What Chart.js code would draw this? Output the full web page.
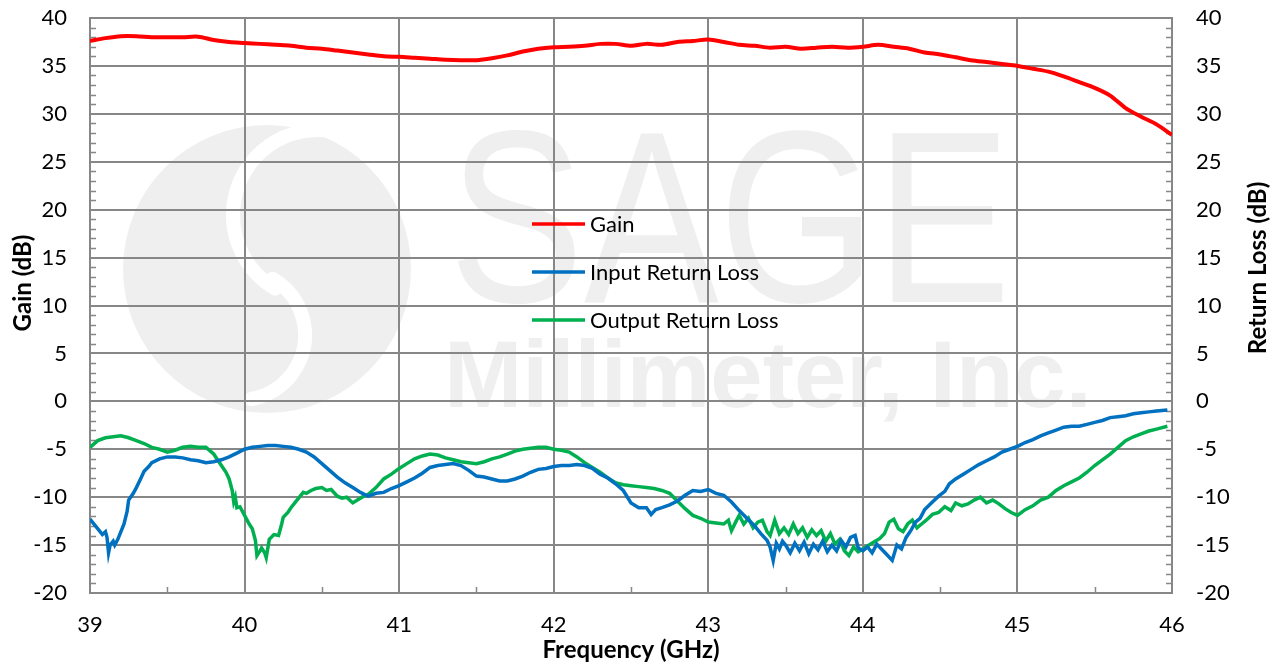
<!DOCTYPE html>
<html>
<head>
<meta charset="utf-8">
<script src="https://cdn.jsdelivr.net/npm/chart.js@4.4.1/dist/chart.umd.min.js"></script>
<style>
  html, body { margin: 0; padding: 0; background: #fff; }
  #wrap { width: 1280px; height: 666px; position: relative; }
</style>
</head>
<body>
<div id="wrap"><canvas id="chartCanvas"></canvas></div>
<script>
// Gain (dB) vs frequency (GHz)
const gainFreq = [39.0,39.1,39.2,39.3,39.4,39.5,39.6,39.7,39.8,39.9,40.0,40.1,40.2,40.3,40.4,40.5,40.6,40.7,40.8,40.9,
  41.0,41.1,41.2,41.3,41.4,41.5,41.6,41.7,41.8,41.9,42.0,42.1,42.2,42.3,42.4,42.5,42.6,42.7,42.8,42.9,
  43.0,43.1,43.2,43.3,43.4,43.5,43.6,43.7,43.8,43.9,44.0,44.1,44.2,44.3,44.4,44.5,44.6,44.7,44.8,44.9,
  45.0,45.1,45.2,45.3,45.4,45.5,45.6,45.7,45.8,45.9,46.0];
const gainDb = [37.6,37.9,38.1,38.1,38.0,38.0,38.0,38.05,37.7,37.5,37.4,37.3,37.2,37.1,36.9,36.8,36.6,36.4,36.2,36.0,
  35.95,35.85,35.75,35.65,35.6,35.6,35.8,36.1,36.5,36.8,36.95,37.0,37.1,37.3,37.3,37.1,37.3,37.2,37.5,37.6,
  37.75,37.5,37.2,37.1,36.9,37.0,36.8,36.9,37.0,36.9,37.0,37.2,37.0,36.8,36.4,36.2,35.9,35.6,35.4,35.2,
  35.0,34.7,34.4,33.9,33.3,32.7,31.9,30.6,29.7,28.9,27.8];

// Input return loss (dB)
const irlFreq = [39.00,39.03,39.06,39.08,39.10,39.11,39.12,39.13,39.15,39.16,39.18,39.20,39.22,39.24,39.25,39.28,39.30,39.33,39.35,39.38,
  39.40,39.45,39.50,39.55,39.60,39.65,39.70,39.75,39.80,39.85,39.90,39.95,40.00,40.05,40.10,40.15,40.20,40.25,40.30,40.35,
  40.40,40.45,40.50,40.55,40.60,40.65,40.70,40.75,40.80,40.85,40.90,40.95,41.00,41.05,41.10,41.15,41.20,41.25,41.30,41.35,
  41.40,41.45,41.50,41.55,41.60,41.65,41.70,41.75,41.80,41.85,41.90,41.95,42.00,42.05,42.10,42.15,42.20,42.25,42.30,42.35,
  42.40,42.45,42.50,42.55,42.60,42.63,42.66,42.70,42.75,42.80,42.85,42.90,42.95,43.00,43.05,43.10,43.15,43.20,43.25,
  43.30,43.34,43.38,43.40,43.42,43.44,43.46,43.48,43.50,43.53,43.56,43.59,43.62,43.65,43.68,43.71,43.74,43.77,43.80,43.83,
  43.86,43.89,43.92,43.95,43.97,44.00,44.03,44.06,44.09,44.12,44.15,44.19,44.22,44.25,44.28,44.31,44.34,44.37,44.40,
  44.45,44.49,44.53,44.56,44.60,44.65,44.70,44.75,44.80,44.85,44.90,44.95,45.00,45.05,45.10,45.15,45.20,45.25,45.30,45.35,
  45.40,45.45,45.50,45.55,45.60,45.65,45.70,45.75,45.80,45.85,45.90,45.97];
const irlDb = [-12.3,-12.9,-13.5,-13.9,-13.6,-14.2,-15.8,-15.0,-14.6,-15.0,-14.4,-13.6,-12.8,-11.5,-10.3,-9.6,-9.0,-8.0,-7.3,-6.8,
  -6.4,-6.0,-5.8,-5.8,-5.9,-6.1,-6.2,-6.4,-6.3,-6.1,-5.8,-5.4,-5.0,-4.8,-4.7,-4.6,-4.6,-4.7,-4.8,-5.0,
  -5.3,-5.8,-6.5,-7.2,-7.9,-8.5,-9.0,-9.5,-9.9,-9.6,-9.5,-9.1,-8.8,-8.4,-8.0,-7.5,-6.9,-6.7,-6.6,-6.5,
  -6.7,-7.2,-7.8,-7.9,-8.1,-8.3,-8.3,-8.1,-7.8,-7.4,-7.1,-7.0,-6.8,-6.7,-6.7,-6.6,-6.7,-7.0,-7.6,-8.0,
  -8.6,-9.3,-10.6,-11.1,-11.1,-11.8,-11.3,-11.1,-10.8,-10.4,-9.8,-9.3,-9.4,-9.2,-9.6,-9.8,-10.5,-11.4,-12.2,
  -13.0,-13.8,-14.5,-15.2,-16.6,-14.8,-15.4,-14.6,-15.0,-15.8,-14.8,-15.6,-14.7,-15.9,-14.9,-15.5,-14.6,-15.7,-15.0,-15.6,
  -14.5,-15.2,-14.2,-14.0,-15.3,-15.6,-15.2,-15.8,-14.9,-15.4,-15.9,-16.6,-15.0,-15.4,-14.2,-13.5,-12.6,-12.2,-11.3,
  -10.5,-9.9,-9.4,-8.6,-8.1,-7.6,-7.1,-6.6,-6.2,-5.8,-5.3,-5.0,-4.7,-4.3,-4.0,-3.6,-3.3,-3.0,-2.7,-2.6,
  -2.6,-2.4,-2.2,-2.0,-1.7,-1.6,-1.5,-1.3,-1.2,-1.1,-1.0,-0.9];

// Output return loss (dB)
const orlFreq = [39.00,39.05,39.10,39.15,39.20,39.25,39.30,39.35,39.40,39.45,39.50,39.55,39.60,39.65,39.70,39.75,39.80,39.85,39.88,39.90,
  39.92,39.93,39.94,39.95,39.97,40.00,40.03,40.05,40.07,40.08,40.10,40.11,40.13,40.14,40.16,40.19,40.22,40.24,40.25,40.28,
  40.30,40.33,40.36,40.38,40.40,40.43,40.46,40.50,40.53,40.56,40.60,40.63,40.66,40.70,40.73,40.76,40.80,40.85,40.90,40.95,
  41.00,41.05,41.10,41.15,41.20,41.25,41.30,41.35,41.40,41.45,41.50,41.55,41.60,41.65,41.70,41.75,41.80,41.85,41.90,41.95,
  42.00,42.05,42.10,42.15,42.20,42.25,42.30,42.35,42.40,42.45,42.50,42.55,42.60,42.65,42.70,42.75,42.80,42.85,42.90,42.95,
  43.00,43.05,43.10,43.13,43.15,43.18,43.20,43.23,43.26,43.29,43.32,43.35,43.38,43.40,43.43,43.46,43.49,43.52,43.55,43.58,
  43.61,43.64,43.67,43.70,43.73,43.76,43.79,43.82,43.85,43.88,43.91,43.94,43.97,44.00,44.04,44.08,44.11,44.14,44.17,44.20,
  44.23,44.26,44.29,44.32,44.35,44.38,44.41,44.45,44.49,44.53,44.57,44.60,44.64,44.68,44.72,44.76,44.80,44.84,44.88,44.92,
  44.96,45.00,45.05,45.10,45.15,45.20,45.25,45.30,45.35,45.40,45.45,45.50,45.55,45.60,45.65,45.70,45.75,45.80,45.85,45.90,45.97];
const orlDb = [-4.8,-4.1,-3.8,-3.7,-3.6,-3.8,-4.1,-4.4,-4.8,-5.0,-5.3,-5.1,-4.8,-4.7,-4.8,-4.8,-5.5,-6.7,-7.4,-8.1,
  -9.3,-10.5,-10.0,-11.1,-11.0,-11.9,-12.8,-13.3,-14.5,-16.1,-15.6,-15.3,-15.8,-16.3,-14.4,-13.9,-14.0,-12.8,-12.1,-11.6,
  -11.1,-10.5,-9.9,-9.5,-9.6,-9.3,-9.1,-9.0,-9.3,-9.2,-9.9,-10.1,-10.0,-10.6,-10.3,-10.0,-9.7,-9.0,-8.1,-7.6,
  -7.0,-6.5,-6.0,-5.7,-5.5,-5.6,-5.9,-6.1,-6.3,-6.4,-6.5,-6.3,-6.0,-5.8,-5.5,-5.2,-5.0,-4.9,-4.8,-4.8,
  -5.0,-5.1,-5.3,-5.8,-6.4,-6.9,-7.4,-8.0,-8.5,-8.7,-8.8,-8.9,-9.0,-9.1,-9.3,-9.6,-10.4,-11.2,-11.9,-12.2,
  -12.6,-12.7,-12.8,-12.4,-13.5,-12.5,-11.9,-12.8,-12.2,-13.2,-12.6,-12.4,-13.6,-14.0,-12.4,-13.8,-13.2,-13.9,-12.8,-13.8,
  -13.2,-14.2,-13.4,-14.0,-13.5,-14.6,-13.8,-14.9,-14.4,-15.6,-16.1,-15.2,-15.7,-15.4,-15.0,-14.6,-14.3,-13.8,-12.6,-12.3,
  -13.3,-13.6,-12.8,-12.4,-13.2,-12.8,-12.4,-11.8,-11.6,-11.0,-11.4,-10.6,-10.9,-10.7,-10.3,-10.0,-10.6,-10.3,-10.7,-11.2,
  -11.6,-11.9,-11.3,-10.9,-10.3,-10.0,-9.3,-8.8,-8.4,-8.0,-7.4,-6.7,-6.1,-5.5,-4.8,-4.1,-3.7,-3.4,-3.1,-2.9,-2.6];

const xTicks = [39, 40, 41, 42, 43, 44, 45, 46];
const yMin = -20, yMax = 40, yStep = 5;

const FONT = 'Lato, "Open Sans", sans-serif';
const GRID = '#878787';

function pts(xs, ys) { return xs.map((x, i) => ({ x, y: ys[i] })); }

// faint company logo behind the plot
const watermark = {
  id: 'watermark',
  beforeDraw(chart) {
    const ctx = chart.ctx;
    ctx.save();
    ctx.fillStyle = '#efefef';
    ctx.beginPath();
    ctx.arc(267, 269, 144, 0, Math.PI * 2);
    ctx.fill();
    ctx.strokeStyle = '#ffffff';
    ctx.lineWidth = 14;
    ctx.lineCap = 'round';
    ctx.beginPath();
    ctx.arc(318, 215, 85, -80 * Math.PI / 180, 120 * Math.PI / 180, true);
    ctx.stroke();
    ctx.beginPath();
    ctx.arc(240, 335, 65, -60 * Math.PI / 180, 80 * Math.PI / 180, false);
    ctx.stroke();
    ctx.fillStyle = '#efefef';
    ctx.textBaseline = 'alphabetic';
    ctx.font = '245px "Liberation Sans", sans-serif';
    ctx.fillText('SAGE', 449, 302, 562);
    ctx.font = 'bold 94px "Liberation Sans", sans-serif';
    ctx.fillText('Millimeter, Inc.', 444, 407, 672);
    ctx.restore();
  }
};

// small inside ticks between the grid lines
const minorTicks = {
  id: 'minorTicks',
  beforeDatasetsDraw(chart) {
    const { ctx, chartArea: a, scales } = chart;
    ctx.save();
    ctx.strokeStyle = GRID;
    ctx.lineWidth = 1.5;
    for (let v = yMin; v <= yMax; v++) {
      if (v % yStep === 0) continue;
      const py = Math.round(scales.y.getPixelForValue(v)) + 0.5;
      ctx.beginPath();
      ctx.moveTo(a.left, py); ctx.lineTo(a.left + 6, py);
      ctx.moveTo(a.right, py); ctx.lineTo(a.right - 6, py);
      ctx.stroke();
    }
    for (let v = 39.5; v < 46; v += 1) {
      const px = Math.round(scales.x.getPixelForValue(v)) + 0.5;
      ctx.beginPath();
      ctx.moveTo(px, a.bottom); ctx.lineTo(px, a.bottom - 6);
      ctx.stroke();
    }
    ctx.restore();
  }
};

// legend inside the plot + rotated axis titles (both read bottom-to-top)
const innerLegend = {
  id: 'innerLegend',
  afterDatasetsDraw(chart) {
    const ctx = chart.ctx;
    ctx.save();
    ctx.font = '22px ' + FONT;
    ctx.textBaseline = 'middle';
    ctx.fillStyle = '#000';
    chart.data.datasets.forEach((ds, i) => {
      const y = 224 + i * 48;
      ctx.strokeStyle = ds.borderColor;
      ctx.lineWidth = 3.5;
      ctx.beginPath();
      ctx.moveTo(532, y); ctx.lineTo(585, y);
      ctx.stroke();
      ctx.fillText(ds.label, 590, y + 1);
    });
    ctx.font = 'bold 24px ' + FONT;
    ctx.textAlign = 'center';
    [['Gain (dB)', 23, 283], ['Return Loss (dB)', 1258, 268]].forEach(([t, x, y]) => {
      ctx.save();
      ctx.translate(x, y);
      ctx.rotate(-Math.PI / 2);
      ctx.fillText(t, 0, 0);
      ctx.restore();
    });
    ctx.restore();
  }
};

const tickFont = { family: FONT, size: 22 };
const titleFont = { family: FONT, size: 24, weight: 'bold' };

new Chart(document.getElementById('chartCanvas'), {
  type: 'line',
  data: {
    datasets: [
      { label: 'Gain', data: pts(gainFreq, gainDb), borderColor: '#FF0000', borderWidth: 4, pointRadius: 0, tension: 0.3, yAxisID: 'y' },
      { label: 'Input Return Loss', data: pts(irlFreq, irlDb), borderColor: '#0070C0', borderWidth: 3.5, pointRadius: 0, tension: 0, yAxisID: 'y2' },
      { label: 'Output Return Loss', data: pts(orlFreq, orlDb), borderColor: '#00B050', borderWidth: 3.5, pointRadius: 0, tension: 0, yAxisID: 'y2' }
    ]
  },
  options: {
    responsive: true, maintainAspectRatio: false, animation: false,
    layout: { padding: { top: 18, left: 0, right: 0, bottom: 0 } },
    plugins: { legend: { display: false }, tooltip: { enabled: false } },
    scales: {
      x: {
        type: 'linear', min: 39, max: 46,
        afterBuildTicks: s => { s.ticks = xTicks.map(v => ({ value: v })); },
        ticks: { font: tickFont, color: '#000', padding: 19 },
        grid: { color: GRID, lineWidth: 2, drawTicks: false },
        border: { color: GRID, width: 2 },
        title: { display: true, text: 'Frequency (GHz)', font: titleFont, color: '#000', padding: { top: 1, bottom: 1 } },
        afterFit: s => { s.height = 73; s.paddingLeft = 0; s.paddingRight = 0; }
      },
      y: {
        position: 'left', min: yMin, max: yMax,
        ticks: { stepSize: yStep, font: tickFont, color: '#000', padding: 23 },
        grid: { color: GRID, lineWidth: 2, drawTicks: false },
        border: { color: GRID, width: 2 },
        afterFit: s => { s.width = 90; s.paddingTop = 0; s.paddingBottom = 0; }
      },
      y2: {
        position: 'right', min: yMin, max: yMax,
        ticks: { stepSize: yStep, font: tickFont, color: '#000', padding: 24 },
        grid: { drawOnChartArea: false, drawTicks: false },
        border: { color: GRID, width: 2 },
        afterFit: s => { s.width = 108; s.paddingTop = 0; s.paddingBottom = 0; }
      }
    }
  },
  plugins: [watermark, minorTicks, innerLegend]
});
</script>
</body>
</html>
